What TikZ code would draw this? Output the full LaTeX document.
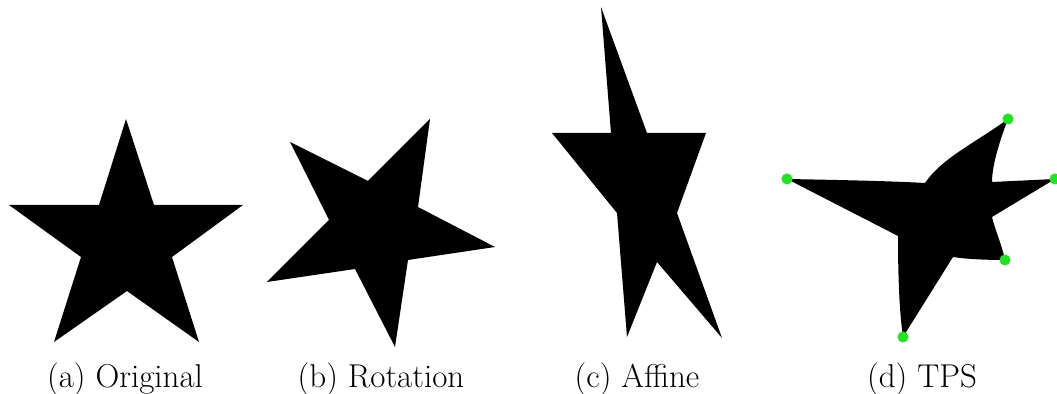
\documentclass[tikz,border=0pt]{standalone}
\begin{document}
\begin{tikzpicture}[x=0.5pt,y=-0.5pt,
  shapefill/.style={fill=black,draw=none},
  ctrl/.style={circle,fill={rgb,255:red,30;green,230;blue,30},draw=none,minimum size=5.5pt,inner sep=0pt},
  caption/.style={anchor=base,inner sep=0pt,font=\fontsize{16.5}{20}\selectfont}]
\useasboundingbox (0,0) rectangle (1057,394);
% (a) Original
\fill[shapefill] (126,119) -- (154,205) -- (243,205) -- (172,257) -- (199,342)
  -- (127,291) -- (54,342) -- (81,257) -- (9,205) -- (99,205) -- cycle;
% (b) Rotation
\fill[shapefill] (430,119) -- (418,207) -- (495,247) -- (408,260) -- (395,347)
  -- (355,269) -- (267,282) -- (329,220) -- (290,142) -- (368,181) -- cycle;
% (c) Affine
\fill[shapefill] (601,7) -- (647,133) -- (706,133) -- (677,213) -- (722,338)
  -- (657,262) -- (627,337) -- (617,213) -- (552,133) -- (611,133) -- cycle;
% (d) TPS
\coordinate (L) at (787,179);
\coordinate (T) at (1008,119);
\coordinate (R) at (1055,179);
\coordinate (D) at (1005,260);
\coordinate (F) at (903,337);
\fill[shapefill] (L) .. controls (840,180) and (890,181) .. (925,183)
  .. controls (942,158) and (975,143) .. (T)
  .. controls (1000,140) and (992,165) .. (992,182)
  -- (R) -- (992,217)
  .. controls (995,230) and (1002,245) .. (D)
  .. controls (985,260) and (965,259) .. (953,257)
  -- (F)
  .. controls (899,310) and (898,270) .. (898,236)
  -- cycle;
\node[ctrl] (pL) at (L) {};
\node[ctrl] (pT) at (T) {};
\node[ctrl] (pR) at (R) {};
\node[ctrl] (pD) at (D) {};
\node[ctrl] (pF) at (F) {};
% captions
\node[caption] (ca) at (125,388) {(a) Original};
\node[caption] (cb) at (381,388) {(b) Rotation};
\node[caption] (cc) at (637,388) {(c) Affine};
\node[caption] (cd) at (922,388) {(d) TPS};
\end{tikzpicture}
\end{document}
